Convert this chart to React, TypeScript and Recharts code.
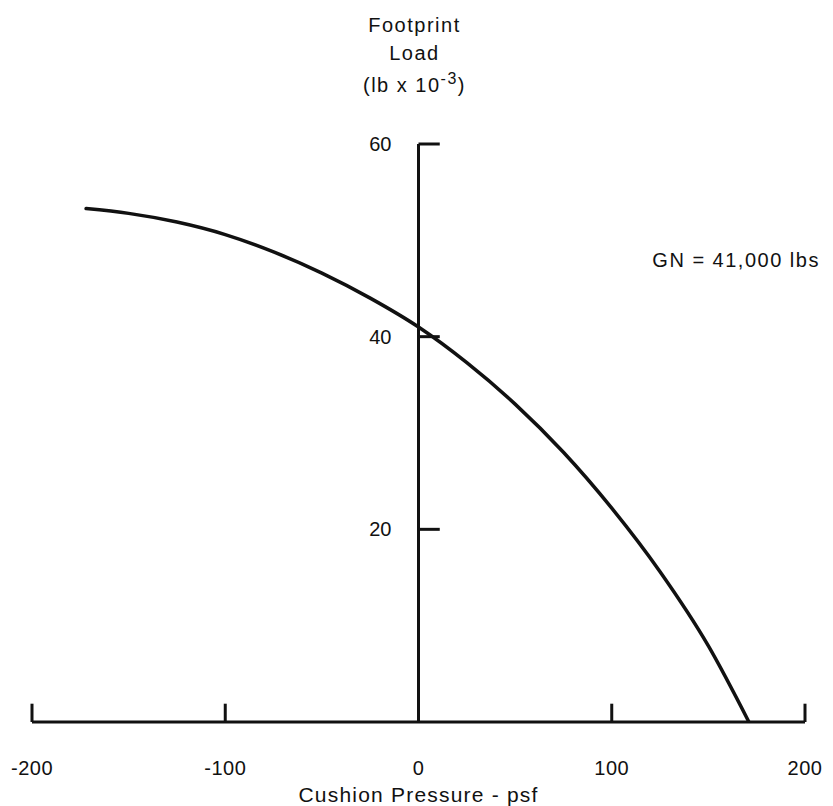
import React from 'react';
import { LineChart, Line, XAxis, YAxis, ReferenceLine, ReferenceDot } from 'recharts';

// cushion pressure (psf) vs footprint load (lb x 10^-3)
const pressure = [-172, -150, -125, -100, -75, -50, -25, 0, 25, 50, 75, 100, 125, 150, 171];
const load = [53.3, 52.8, 51.9, 50.6, 48.8, 46.6, 44.0, 41.0, 37.3, 33.0, 28.0, 22.2, 15.6, 7.9, 0];

const xTicks = [-200, -100, 0, 100, 200];
const xTickMarks = [-200, -100, 100, 200];
const yTicks = [20, 40, 60];

const gnLabel = 'GN = 41,000 lbs';
const gnAt = { x: 121, y: 48 };

const FONT = '"Liberation Sans", Arial, Helvetica, sans-serif';
const INK = '#111';

const data = pressure.map((p, i) => ({ x: p, load: load[i] }));

const YTitle = (props: any) => {
  const vb = props.viewBox || {};
  const cx = vb.x - 4;
  const top = vb.y;
  return (
    <text x={cx} y={top} textAnchor="middle" fill={INK} fontFamily={FONT} fontSize={20} letterSpacing={1.5}>
      <tspan x={cx} y={top - 112}>Footprint</tspan>
      <tspan x={cx} y={top - 84}>Load</tspan>
      <tspan x={cx} y={top - 52}>
        (lb x 10<tspan fontSize={16} dy={-8}>-3</tspan><tspan dy={8}>)</tspan>
      </tspan>
    </text>
  );
};

const App: React.FC = () => {
  return (
    <div style={{ position: 'absolute', left: 0, top: 0, background: '#fff' }}>
      <LineChart width={833} height={806} data={data} margin={{ top: 144, right: 28, left: 32, bottom: 0 }}>
        <XAxis
          dataKey="x"
          type="number"
          domain={[-200, 200]}
          ticks={xTicks}
          allowDataOverflow
          height={84}
          axisLine={{ stroke: INK, strokeWidth: 3 }}
          tickLine={false}
          tickSize={0}
          tickMargin={39}
          tick={{ fill: INK, fontSize: 20, fontFamily: FONT, letterSpacing: 0.5 }}
          label={{
            value: 'Cushion Pressure - psf',
            position: 'insideBottom',
            offset: 4,
            fill: INK,
            fontSize: 21,
            fontFamily: FONT,
            letterSpacing: 1.2,
          }}
        />
        <YAxis hide type="number" domain={[0, 60]} ticks={yTicks} allowDataOverflow />

        {/* vertical axis drawn through zero pressure */}
        <ReferenceLine
          segment={[{ x: 0, y: 0 }, { x: 0, y: 60 }]}
          stroke={INK}
          strokeWidth={3}
          label={<YTitle />}
        />
        {yTicks.map((t) => (
          <ReferenceLine
            key={'yt' + t}
            segment={[{ x: 0, y: t }, { x: 11, y: t }]}
            stroke={INK}
            strokeWidth={3}
            label={{ value: String(t), position: 'left', offset: 27, fill: INK, fontSize: 20, fontFamily: FONT }}
          />
        ))}
        {xTickMarks.map((t) => (
          <ReferenceLine
            key={'xt' + t}
            segment={[{ x: t, y: 0 }, { x: t, y: 1.9 }]}
            stroke={INK}
            strokeWidth={3}
          />
        ))}

        <ReferenceDot
          x={gnAt.x}
          y={gnAt.y}
          r={0}
          fill="none"
          stroke="none"
          label={{ value: gnLabel, position: 'right', offset: 0, fill: INK, fontSize: 20, fontFamily: FONT, letterSpacing: 1.5 }}
        />

        <Line
          type="monotone"
          dataKey="load"
          stroke={INK}
          strokeWidth={3.5}
          strokeLinecap="round"
          dot={false}
          isAnimationActive={false}
        />
      </LineChart>
    </div>
  );
};

export default App;
